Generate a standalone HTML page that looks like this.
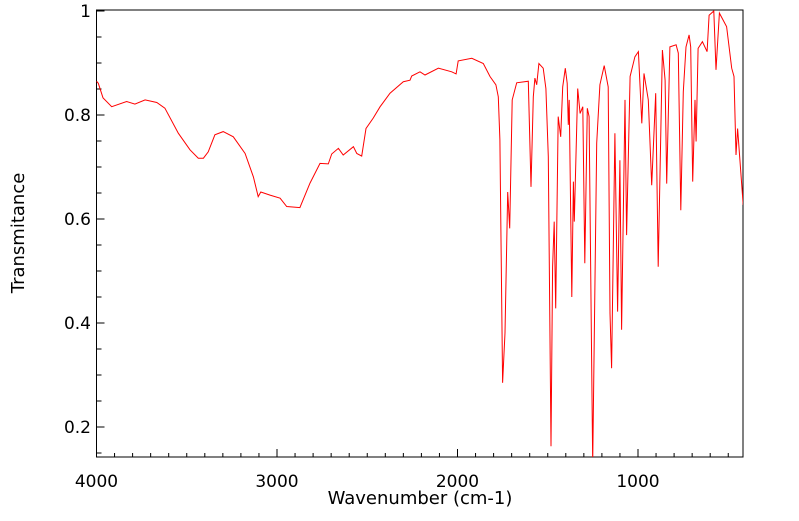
<!DOCTYPE html>
<html><head><meta charset="utf-8"><style>
body{margin:0;background:#fff;}
svg text{font-family:"DejaVu Sans","Liberation Sans",sans-serif;}
</style></head><body>
<svg id="chart" width="799" height="516" xmlns="http://www.w3.org/2000/svg">
<defs><clipPath id="clip"><rect x="96.5" y="10" width="646.5" height="447"/></clipPath></defs>
<rect x="96.5" y="10" width="646.5" height="447" fill="none" stroke="#000" stroke-width="1"/>
<g id="ticks"></g>
<text x="24" y="233" font-size="18" text-anchor="middle" transform="rotate(-90 24 233)">Transmitance</text>
<text x="420" y="504" font-size="18" text-anchor="middle">Wavenumber (cm-1)</text>
<path id="spectrum" fill="none" stroke="#ff0000" stroke-width="1" clip-path="url(#clip)"/>
</svg>
<script>
const wavenumbers=[4000,3990,3964,3916,3833,3787,3731,3666,3621,3547,3482,3436,3408,3381,3344,3298,3242,3177,3131,3104,3090,3039,2983,2946,2873,2817,2762,2716,2697,2660,2633,2577,2558,2531,2507,2467,2429,2374,2300,2263,2254,2208,2180,2106,2032,2008,1996,1921,1857,1820,1787,1774,1765,1750,1737,1722,1711,1697,1672,1608,1593,1580,1571,1561,1549,1525,1510,1497,1482,1473,1464,1456,1442,1428,1417,1403,1392,1386,1381,1367,1358,1353,1334,1321,1306,1295,1281,1271,1251,1229,1211,1187,1165,1155,1146,1128,1113,1100,1091,1072,1063,1044,1017,998,979,967,943,924,902,888,865,850,841,823,789,777,763,749,734,717,708,697,684,678,667,643,617,606,580,568,549,509,481,468,457,448,417];
const transmittance=[0.865,0.861,0.833,0.816,0.826,0.821,0.829,0.824,0.813,0.765,0.733,0.717,0.717,0.729,0.762,0.768,0.758,0.726,0.681,0.643,0.652,0.646,0.640,0.624,0.622,0.669,0.707,0.706,0.725,0.736,0.723,0.739,0.726,0.721,0.774,0.794,0.816,0.842,0.864,0.867,0.875,0.883,0.877,0.890,0.883,0.879,0.904,0.909,0.899,0.874,0.858,0.835,0.752,0.285,0.381,0.652,0.582,0.829,0.862,0.865,0.662,0.835,0.871,0.858,0.899,0.890,0.851,0.720,0.163,0.508,0.595,0.428,0.797,0.758,0.854,0.890,0.861,0.781,0.829,0.450,0.672,0.595,0.851,0.803,0.816,0.515,0.813,0.797,0.13,0.746,0.858,0.895,0.854,0.419,0.313,0.765,0.422,0.713,0.387,0.829,0.569,0.874,0.912,0.922,0.784,0.880,0.829,0.665,0.842,0.508,0.925,0.867,0.668,0.931,0.935,0.919,0.617,0.845,0.931,0.954,0.931,0.672,0.829,0.749,0.928,0.941,0.922,0.992,1.0,0.887,0.996,0.970,0.890,0.874,0.723,0.774,0.627];
const xTickLabels=[4000,3000,2000,1000];
const yTickLabels=["0.2","0.4","0.6","0.8","1"];
const X0=96.5, XS=0.1805, Y0=11, YS=520;
function xs(w){return X0+(4000-w)*XS;}
function ys(t){return Y0+(1-t)*YS;}
const NS="http://www.w3.org/2000/svg";
const g=document.getElementById('ticks');
function line(x1,y1,x2,y2,name){const l=document.createElementNS(NS,'line');l.setAttribute('x1',x1);l.setAttribute('y1',y1);l.setAttribute('x2',x2);l.setAttribute('y2',y2);l.setAttribute('stroke','#000');l.setAttribute('stroke-width','1');


g.appendChild(l);}
function text(x,y,s,anchor,name){const t=document.createElementNS(NS,'text');t.setAttribute('x',x);t.setAttribute('y',y);t.setAttribute('font-size','17');t.setAttribute('text-anchor',anchor);t.textContent=s;


g.appendChild(t);}
for(let w=4000;w>=450;w-=100){const x=xs(w);const major=(w%1000===0);line(x,457,x,457-(major?8:4),major?'x-major-tick':'x-minor-tick');}
xTickLabels.forEach(w=>text(xs(w),487,String(w),'middle','x-tick-label'));
for(let k=3;k<=20;k++){const v=k*0.05;const y=ys(v);const major=(k%4===0);line(96.5,y,96.5+(major?8:5),y,major?'y-major-tick':'y-minor-tick');}
yTickLabels.forEach(s=>text(91,ys(parseFloat(s))+6,s,'end','y-tick-label'));
let d='';wavenumbers.forEach((w,i)=>{d+=(i?'L':'M')+xs(w).toFixed(1)+' '+ys(transmittance[i]).toFixed(1);});
document.getElementById('spectrum').setAttribute('d',d);
</script>
</body></html>
